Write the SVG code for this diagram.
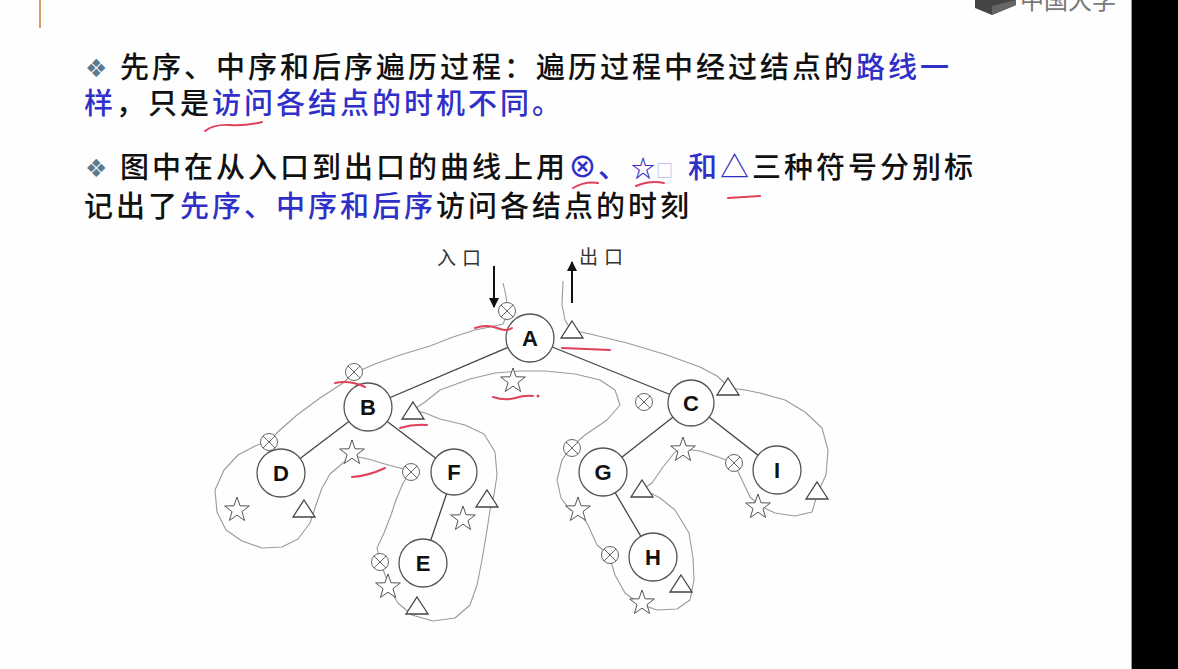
<svg xmlns="http://www.w3.org/2000/svg" xmlns:xlink="http://www.w3.org/1999/xlink" width="1178" height="669" viewBox="0 0 1178 669">
<style>
.t{font-family:"Noto Sans CJK SC","Noto Sans",sans-serif;font-size:29px;font-weight:500;letter-spacing:3px;fill:#111}
.b{fill:#3030c8}
.dia{font-family:"DejaVu Sans",sans-serif;font-size:25px;fill:#5a7a90}
.node circle{fill:#fff;stroke:#555;stroke-width:1.3}
.node text{font-family:"Liberation Sans",Arial,sans-serif;font-weight:bold;font-size:22px;fill:#111;text-anchor:middle}
.edge{stroke:#444;stroke-width:1.3}
.path{fill:none;stroke:#9a9a9a;stroke-width:1.1;stroke-linejoin:round}
.red{fill:none;stroke:#e0405a;stroke-width:2;stroke-linecap:round}
.lbl{font-family:"Noto Sans CJK SC",sans-serif;font-size:19px;letter-spacing:6px;fill:#333}
</style>
<defs>
<g id="ox"><circle r="8.5" fill="#fff" stroke="#666" stroke-width="1"/><path d="M-6,-6L6,6M6,-6L-6,6" stroke="#666" stroke-width="1"/></g>
<path id="star" d="M0,-13L3.06,-4.21L12.36,-4.02L4.95,1.61L7.64,10.52L0,5.2L-7.64,10.52L-4.95,1.61L-12.36,-4.02L-3.06,-4.21Z" fill="#fff" stroke="#555" stroke-width="1"/>
<path id="tri" d="M0,-9L11,8L-11,8Z" fill="#fff" stroke="#444" stroke-width="1.3" stroke-linejoin="miter"/>
<marker id="ah" viewBox="0 0 10 10" refX="9" refY="5" markerWidth="5" markerHeight="5" orient="auto"><path d="M0,0L10,5L0,10Z" fill="#111"/></marker>
</defs>
<rect width="1178" height="669" fill="#fefefe"/>
<line x1="40" y1="0" x2="40" y2="28" stroke="#d4a060" stroke-width="2"/>
<g id="logo">
<polygon points="975,0 1016,0 1016,5 992,15 975,8" fill="#444"/>
<polygon points="992,6 1016,0 1016,5 992,15" fill="#666"/>
<text x="1020" y="9" style="font-family:'Noto Sans CJK SC',sans-serif;font-size:24px;fill:#777">中国大学</text>
</g>
<rect x="1132" y="0" width="46" height="669" fill="#000"/>
<line x1="1131.5" y1="0" x2="1131.5" y2="669" stroke="#999" stroke-width="1"/>

<g id="text">
<text class="dia" x="85" y="77">❖</text>
<text class="t" x="120" y="78">先序、中序和后序遍历过程：遍历过程中经过结点的<tspan class="b">路线一</tspan></text>
<text class="t" x="84" y="114"><tspan class="b">样</tspan>，只是<tspan class="b">访问各结点的时机不同。</tspan></text>
<text class="dia" x="85" y="177">❖</text>
<text class="t" x="120" y="178">图中在从入口到出口的曲线上用</text>
<text class="t b" x="568" y="178">⊗</text>
<text class="t b" x="598" y="178">、</text>
<text class="t b" x="631" y="177" style="font-size:24px;font-weight:bold">☆</text>
<text class="t" x="656" y="177" style="font-size:17px;fill:#b8b8e8">□</text>
<text class="t b" x="688" y="178">和</text>
<text class="t b" x="720" y="178">△</text>
<text class="t" x="752" y="178">三种符号分别标</text>
<text class="t" x="84" y="217">记出了<tspan class="b">先序、中序和后序</tspan>访问各结点的时刻</text>
</g>

<g id="connectors">
<line class="edge" x1="530" y1="338" x2="368" y2="407"/>
<line class="edge" x1="530" y1="338" x2="691" y2="403"/>
<line class="edge" x1="368" y1="407" x2="281" y2="473"/>
<line class="edge" x1="368" y1="407" x2="454" y2="472"/>
<line class="edge" x1="454" y1="472" x2="423" y2="563"/>
<line class="edge" x1="691" y1="403" x2="603" y2="472"/>
<line class="edge" x1="691" y1="403" x2="777" y2="470"/>
<line class="edge" x1="603" y1="472" x2="653" y2="557"/>
<polyline class="path" points="503,283 506,296 508,312 503,324 490,327 475,330 453,337 430,346 400,355 375,364 354,373 343,383 320,398 297,415 280,430 269,441 255,446 238,455 224,470 215,490 217,512 226,530 242,541 262,548 282,547 298,539 310,523 316,505 322,488 330,474 343,463 353,456 368,459 385,464 400,468 411,472 403,483 396,500 391,515 384,533 377,548 380,562 386,577 390,590 398,603 412,615 433,621 455,618 470,605 477,585 482,560 487,530 490,510 494,495 497,475 495,452 484,434 465,425 440,419 425,413 413,410 425,402 440,390 470,379 495,373 520,371 545,371 575,374 600,380 615,390 620,405 607,420 585,435 571,447 562,460 557,480 561,498 570,510 580,512 588,525 597,545 609,555 615,575 625,593 640,604 657,610 677,609 690,600 694,580 693,558 689,533 675,510 660,498 643,489 652,483 663,467 675,452 684,449 700,451 718,457 734,463 742,480 750,497 760,506 775,513 795,516 812,512 818,492 826,475 828,450 822,428 805,412 785,400 760,393 745,390 730,388 717,376 700,367 667,355 627,343 590,334 571,330 565,320 562,305 563,281"/>
<line x1="494" y1="266" x2="494" y2="307" stroke="#111" stroke-width="2" marker-end="url(#ah)"/>
<line x1="572" y1="303" x2="572" y2="262" stroke="#111" stroke-width="2" marker-end="url(#ah)"/>
<text class="lbl" x="437" y="265">入口</text>
<text class="lbl" x="579" y="264">出口</text>
</g>

<g id="nodeA" class="node"><circle cx="530" cy="338" r="24"/><text x="530" y="346">A</text></g>
<g id="nodeB" class="node"><circle cx="368" cy="407" r="24"/><text x="368" y="415">B</text></g>
<g id="nodeC" class="node"><circle cx="691" cy="403" r="23"/><text x="691" y="411">C</text></g>
<g id="nodeD" class="node"><circle cx="281" cy="473" r="24"/><text x="281" y="481">D</text></g>
<g id="nodeF" class="node"><circle cx="454" cy="472" r="23"/><text x="454" y="480">F</text></g>
<g id="nodeE" class="node"><circle cx="423" cy="563" r="24"/><text x="423" y="571">E</text></g>
<g id="nodeG" class="node"><circle cx="603" cy="472" r="24"/><text x="603" y="480">G</text></g>
<g id="nodeI" class="node"><circle cx="777" cy="470" r="24"/><text x="777" y="478">I</text></g>
<g id="nodeH" class="node"><circle cx="653" cy="557" r="24"/><text x="653" y="565">H</text></g>

<g id="marks">
<use xlink:href="#ox" x="507" y="311"/>
<use xlink:href="#ox" x="354" y="372"/>
<use xlink:href="#ox" x="269" y="442"/>
<use xlink:href="#ox" x="411" y="472"/>
<use xlink:href="#ox" x="380" y="562"/>
<use xlink:href="#ox" x="644" y="402"/>
<use xlink:href="#ox" x="572" y="448"/>
<use xlink:href="#ox" x="610" y="555"/>
<use xlink:href="#ox" x="734" y="463"/>
<use xlink:href="#star" x="513" y="381"/>
<use xlink:href="#star" x="352" y="453"/>
<use xlink:href="#star" x="237" y="510"/>
<use xlink:href="#star" x="388" y="587"/>
<use xlink:href="#star" x="463" y="519"/>
<use xlink:href="#star" x="578" y="510"/>
<use xlink:href="#star" x="642" y="603"/>
<use xlink:href="#star" x="683" y="450"/>
<use xlink:href="#star" x="758" y="507"/>
<use xlink:href="#tri" x="572" y="330"/>
<use xlink:href="#tri" x="413" y="411"/>
<use xlink:href="#tri" x="304" y="509"/>
<use xlink:href="#tri" x="417" y="606"/>
<use xlink:href="#tri" x="487" y="499"/>
<use xlink:href="#tri" x="728" y="387"/>
<use xlink:href="#tri" x="642" y="489"/>
<use xlink:href="#tri" x="681" y="584"/>
<use xlink:href="#tri" x="817" y="491"/>
</g>

<g id="annotations">
<path class="red" d="M205,131 Q214,124 230,125 T262,122"/>
<path class="red" d="M573,188 Q585,181 598,183"/>
<path class="red" d="M636,186 Q650,180 664,183"/>
<path class="red" d="M728,198 L760,196"/>
<path class="red" d="M475,328 Q487,324 497,328 T512,328"/>
<path class="red" d="M562,348 L610,350"/>
<path class="red" d="M335,383 Q350,380 365,387"/>
<path class="red" d="M400,428 Q413,424 427,425"/>
<path class="red" d="M493,397 Q505,401 515,398 T533,396"/>
<circle cx="538" cy="396" r="1.5" fill="#e0405a"/>
<path class="red" d="M352,477 Q368,476 385,468"/>
</g>
</svg>
